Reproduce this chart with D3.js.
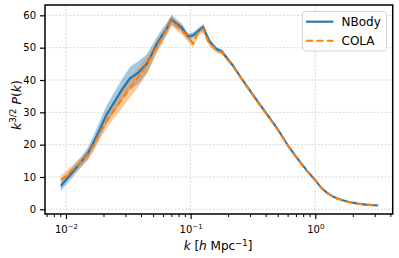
<!DOCTYPE html>
<html>
<head>
<meta charset="utf-8">
<script src="https://cdn.jsdelivr.net/npm/d3@7"></script>
<style>
  body { margin: 0; background: #fff; }
  text { font-family: "DejaVu Sans", sans-serif; fill: #000; }
</style>
</head>
<body>
<div id="chart"></div>
<script>
// wavenumbers shared by both runs
const kValues = [0.0091, 0.0100, 0.0118, 0.0134, 0.0150, 0.0168, 0.0187, 0.0211, 0.0247, 0.0281,
  0.0326, 0.0378, 0.0446, 0.0489, 0.0537, 0.0600, 0.0646, 0.0703, 0.0765, 0.0845,
  0.0898, 0.0957, 0.1049, 0.114, 0.1262, 0.134, 0.1429, 0.151, 0.1617, 0.1773,
  0.196, 0.2196, 0.254, 0.2987, 0.346, 0.407, 0.504, 0.6064, 0.713, 0.851,
  1.0, 1.11, 1.232, 1.41, 1.63, 1.895, 2.20, 2.55, 3.195];

const nbody = [7.2, 9.1, 12.4, 14.9, 17.3, 21.0, 24.8, 29.2, 33.5, 37.0,
  40.5, 42.2, 45.0, 48.0, 51.2, 54.2, 56.0, 58.7, 57.5, 56.3,
  54.8, 53.4, 53.8, 55.0, 56.4, 54.0, 51.8, 50.8, 49.5, 48.9,
  46.8, 44.4, 40.7, 36.8, 33.3, 29.6, 24.6, 19.6, 15.9, 12.1,
  9.0, 6.8, 5.2, 3.8, 2.9, 2.2, 1.75, 1.45, 1.2];
const nbodyErr = [1.5, 1.6, 1.6, 1.6, 1.8, 2.2, 2.5, 2.8, 3.0, 3.2,
  3.5, 3.5, 3.0, 2.6, 2.2, 2.0, 1.8, 1.5, 1.4, 1.3,
  1.2, 1.0, 1.0, 1.0, 0.9, 0.9, 0.8, 0.7, 0.6, 0.6,
  0.5, 0.5, 0.4, 0.4, 0.3, 0.3, 0.3, 0.2, 0.2, 0.2,
  0.2, 0.1, 0.1, 0.1, 0.1, 0.1, 0.1, 0.1, 0.1];

const cola = [9.1, 10.3, 12.8, 14.8, 16.8, 20.0, 23.6, 27.2, 31.0, 34.0,
  37.5, 40.7, 44.7, 47.3, 50.3, 53.4, 55.8, 58.2, 57.0, 55.5,
  54.4, 53.0, 51.3, 54.5, 55.8, 53.2, 51.0, 50.4, 49.0, 48.6,
  46.5, 44.2, 40.5, 36.6, 33.1, 29.4, 24.4, 19.5, 15.8, 12.0,
  8.9, 6.7, 5.1, 3.7, 2.8, 2.2, 1.7, 1.45, 1.2];
const colaErr = [1.5, 1.5, 1.5, 1.5, 1.6, 1.8, 2.0, 2.3, 2.5, 2.8,
  3.0, 3.0, 2.6, 2.3, 2.0, 1.8, 1.8, 1.6, 1.5, 1.4,
  1.4, 1.3, 1.2, 1.1, 1.0, 1.0, 0.9, 0.8, 0.7, 0.6,
  0.5, 0.5, 0.4, 0.4, 0.3, 0.3, 0.3, 0.2, 0.2, 0.2,
  0.2, 0.1, 0.1, 0.1, 0.1, 0.1, 0.1, 0.1, 0.1];

const yTicks = [0, 10, 20, 30, 40, 50, 60];
const xTicks = [0.01, 0.1, 1];
const xTickExp = ['\u22122', '\u22121', '0'];

const W = 399, H = 258;
const margin = { left: 45, right: 6.3, top: 5, bottom: 44 };
const blue = '#1f77b4', orange = '#ff7f0e';

const svg = d3.select('#chart').append('svg')
  .attr('width', W).attr('height', H);

const x = d3.scaleLog()
  .domain([0.00679, 4.18])
  .range([margin.left, W - margin.right]);
const y = d3.scaleLinear()
  .domain([-1.45, 63.2])
  .range([H - margin.bottom, margin.top]);

// grid
const grid = svg.append('g').attr('stroke', '#b0b0b0').attr('stroke-width', 0.6)
  .attr('stroke-dasharray', '2,1.5').attr('opacity', 0.8);
yTicks.forEach(v => {
  grid.append('line').attr('x1', x.range()[0]).attr('x2', x.range()[1])
    .attr('y1', y(v)).attr('y2', y(v));
});
xTicks.forEach(v => {
  grid.append('line').attr('x1', x(v)).attr('x2', x(v))
    .attr('y1', y.range()[0]).attr('y2', y.range()[1]);
});

const rows = kValues.map((k, i) => ({
  k: k, nb: nbody[i], nbe: nbodyErr[i], co: cola[i], coe: colaErr[i]
}));

const area = (v, e) => d3.area()
  .x(d => x(d.k))
  .y0(d => y(d[v] - d[e]))
  .y1(d => y(d[v] + d[e]));
const line = v => d3.line().x(d => x(d.k)).y(d => y(d[v]));

svg.append('path').datum(rows).attr('d', area('nb', 'nbe'))
  .attr('fill', blue).attr('fill-opacity', 0.4);
svg.append('path').datum(rows).attr('d', area('co', 'coe'))
  .attr('fill', orange).attr('fill-opacity', 0.4);

svg.append('path').datum(rows).attr('d', line('nb'))
  .attr('fill', 'none').attr('stroke', blue).attr('stroke-width', 2.1);
svg.append('path').datum(rows).attr('d', line('co'))
  .attr('fill', 'none').attr('stroke', orange).attr('stroke-width', 2.1)
  .attr('stroke-dasharray', '7,3.5');

// axes
const yAxis = d3.axisLeft(y).tickValues(yTicks).tickSize(5).tickPadding(4);
const gy = svg.append('g').attr('transform', `translate(${margin.left},0)`).call(yAxis);
gy.select('.domain').remove();
gy.selectAll('text').style('font-size', '10px');
gy.selectAll('line').attr('stroke-width', 1.2);

const minor = [];
[0.001, 0.01, 0.1, 1].forEach(d => {
  for (let m = 2; m <= 9; m++) {
    const v = d * m;
    if (v >= x.domain()[0] && v <= x.domain()[1]) minor.push(v);
  }
});
const gxm = svg.append('g').attr('transform', `translate(0,${H - margin.bottom})`)
  .call(d3.axisBottom(x).tickValues(minor).tickSize(3).tickFormat(''));
gxm.select('.domain').remove();
gxm.selectAll('line').attr('stroke-width', 1);

const gx = svg.append('g').attr('transform', `translate(0,${H - margin.bottom})`)
  .call(d3.axisBottom(x).tickValues(xTicks).tickSize(5).tickFormat(''));
gx.select('.domain').remove();
gx.selectAll('line').attr('stroke-width', 1.2);
gx.selectAll('.tick').append('text')
  .attr('y', 19).attr('text-anchor', 'middle').style('font-size', '10px')
  .each(function (d, i) {
    const t = d3.select(this);
    t.append('tspan').text('10');
    t.append('tspan').attr('dy', -4).style('font-size', '7px').text(xTickExp[i]);
  });

// frame
svg.append('rect')
  .attr('x', margin.left).attr('y', margin.top)
  .attr('width', W - margin.right - margin.left)
  .attr('height', H - margin.bottom - margin.top)
  .attr('fill', 'none').attr('stroke', '#000').attr('stroke-width', 1.5);

// labels
const xl = svg.append('text').attr('x', 218).attr('y', 250)
  .attr('text-anchor', 'middle').style('font-size', '12px');
xl.append('tspan').style('font-style', 'italic').text('k');
xl.append('tspan').text(' [');
xl.append('tspan').style('font-style', 'italic').text('h');
xl.append('tspan').text(' Mpc');
xl.append('tspan').attr('dy', -4.5).style('font-size', '8.5px').text('\u22121');
xl.append('tspan').attr('dy', 4.5).text(']');

const yl = svg.append('text')
  .attr('transform', 'translate(20.5,105) rotate(-90)')
  .attr('text-anchor', 'middle').style('font-size', '12.5px');
yl.append('tspan').style('font-style', 'italic').text('k');
yl.append('tspan').attr('dy', -4.5).style('font-size', '8.8px').text('3/2');
yl.append('tspan').attr('dy', 4.5).text(' ');
yl.append('tspan').style('font-style', 'italic').text('P');
yl.append('tspan').text('(');
yl.append('tspan').style('font-style', 'italic').text('k');
yl.append('tspan').text(')');

// legend
const lg = svg.append('g');
lg.append('rect').attr('x', 302.5).attr('y', 11.5).attr('width', 84).attr('height', 39.5)
  .attr('rx', 3).attr('fill', '#fff').attr('fill-opacity', 0.8)
  .attr('stroke', '#ccc').attr('stroke-width', 0.8);
const legendItems = [
  { name: 'NBody', color: blue, dash: null },
  { name: 'COLA', color: orange, dash: '7,3.5' }
];
legendItems.forEach((it, i) => {
  const yy = 21.7 + i * 19;
  lg.append('line').attr('x1', 306).attr('x2', 333.5).attr('y1', yy).attr('y2', yy)
    .attr('stroke', it.color).attr('stroke-width', 2.1)
    .attr('stroke-dasharray', it.dash);
  lg.append('text').attr('x', 341.5).attr('y', yy + 4.4).style('font-size', '12px').text(it.name);
});
</script>
</body>
</html>
